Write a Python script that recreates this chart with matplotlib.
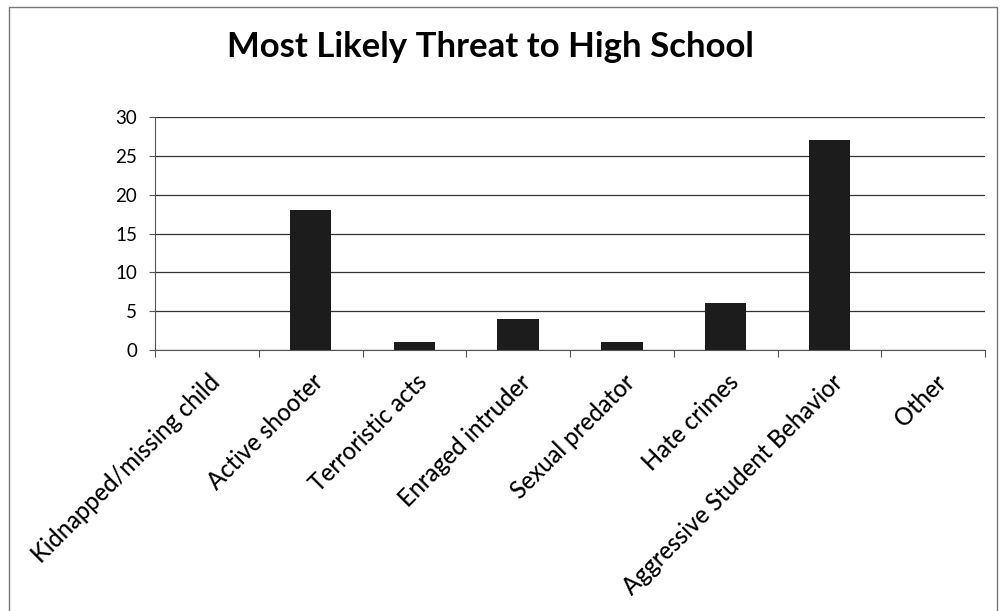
import numpy as np
import matplotlib
matplotlib.use("Agg")
import matplotlib.pyplot as plt
from matplotlib.patches import Rectangle

categories = ["Kidnapped/missing child", "Active shooter", "Terroristic acts",
              "Enraged intruder", "Sexual predator", "Hate crimes",
              "Aggressive Student Behavior", "Other"]
counts = [0, 18, 1, 4, 1, 6, 27, 0]
yticks = [0, 5, 10, 15, 20, 25, 30]

plt.rcParams['font.family'] = ['Lato', 'DejaVu Sans']

fig = plt.figure(figsize=(10, 6.11), dpi=100)
ax = fig.add_axes([0.155, 0.427, 0.83, 0.3815])

x = np.arange(len(categories))
ax.bar(x, counts, width=0.4, color='#1c1c1c', zorder=3)

ax.set_xlim(-0.5, len(categories) - 0.5)
ax.set_ylim(0, 30)
ax.set_yticks(yticks)
ax.yaxis.grid(True, color='#333333', linewidth=0.9, zorder=0)
ax.tick_params(axis='y', labelsize=13.5, length=4, width=0.8, color='#555555', pad=9)

# category boundary ticks like Excel
ax.set_xticks(np.arange(len(categories) + 1) - 0.5)
ax.set_xticklabels([])
ax.tick_params(axis='x', length=5, width=0.8, color='#555555')
for i, lab in enumerate(categories):
    ax.text(i + 0.01, -2.6, lab, rotation=45, ha='right', va='top',
            rotation_mode='anchor', fontsize=17, fontweight='medium')

for s in ['top', 'right']:
    ax.spines[s].set_visible(False)
ax.spines['left'].set_color('#555555')
ax.spines['bottom'].set_color('#555555')
ax.set_axisbelow(True)

fig.text(0.49, 0.923, "Most Likely Threat to High School", ha='center', va='center',
         fontsize=25, fontweight='bold')

fig.patches.append(Rectangle((0.009, -0.01), 0.988, 0.999, transform=fig.transFigure,
                             fill=False, edgecolor='#777777', linewidth=1.0))

fig.savefig("out.png", dpi=100)
